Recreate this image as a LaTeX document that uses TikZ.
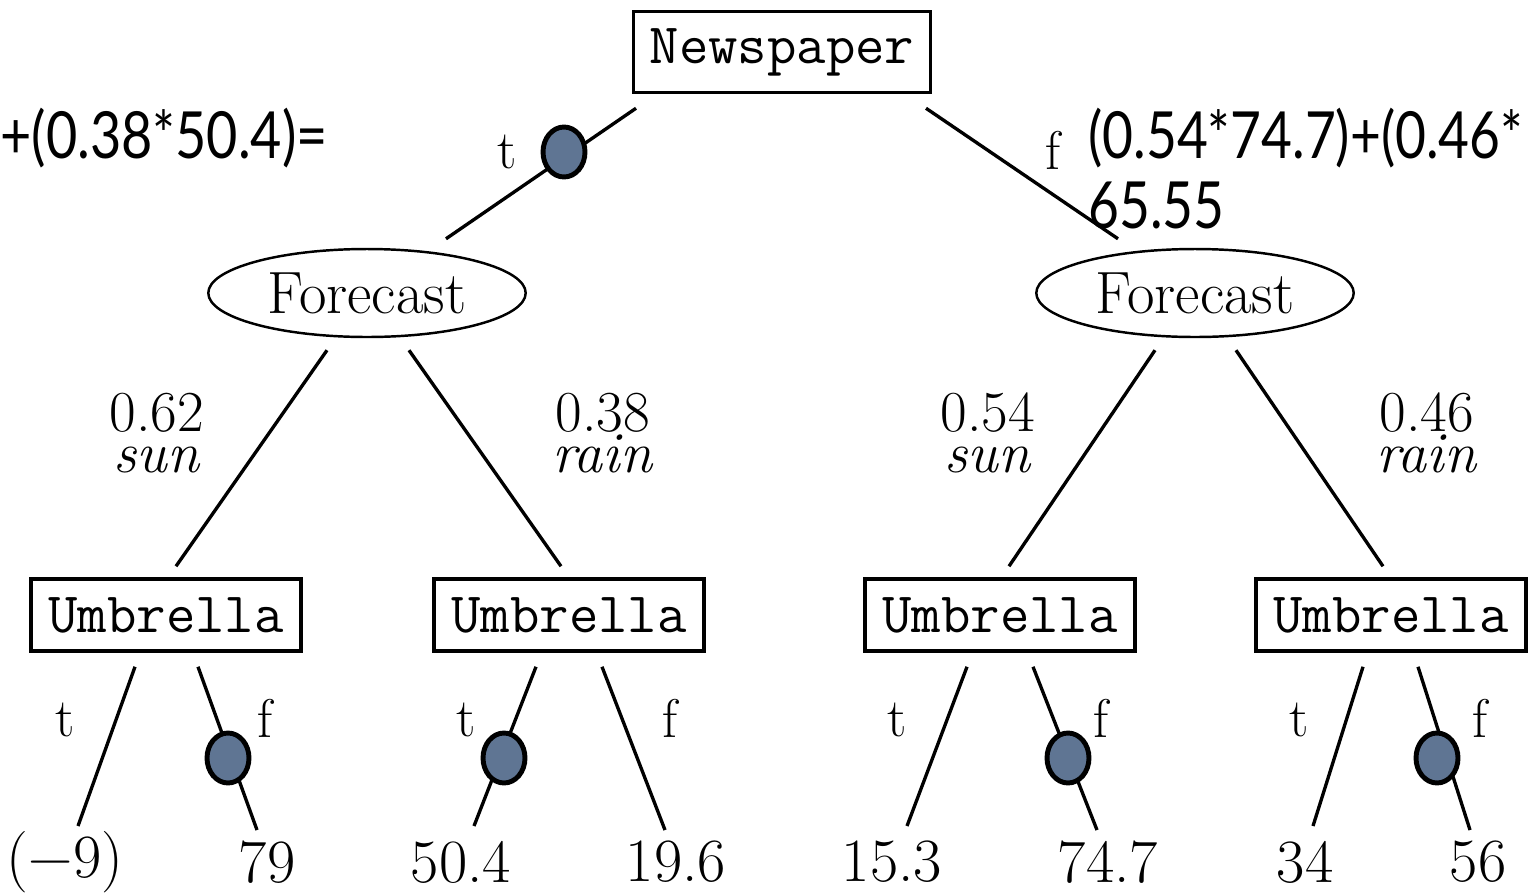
\documentclass[tikz,border=0pt]{standalone}
\usepackage{fontspec}
\newfontfamily\notefont{Lato}
\usetikzlibrary{shapes.geometric,calc}

\begin{document}
\begin{tikzpicture}[x=0.02cm, y=-0.02cm,
    varbox/.style={rectangle, draw, line width=2pt, inner sep=0pt, font=\fontsize{32.5}{32.5}\selectfont\ttfamily},
    chance/.style={ellipse, draw, line width=1.4pt, inner sep=0pt, minimum width=6.35cm, minimum height=1.76cm, font=\fontsize{34}{34}\selectfont},
    edge/.style={line width=1.9pt},
    pick/.style={ellipse, draw, line width=2.8pt, fill=pickblue, inner sep=0pt, minimum width=0.84cm, minimum height=1.0cm},
    lbl/.style={font=\fontsize{31}{31}\selectfont, inner sep=0pt},
    prob/.style={font=\fontsize{33}{23}\selectfont, align=center, inner sep=0pt},
    leaf/.style={font=\fontsize{35}{35}\selectfont, inner sep=0pt},
    note/.style={font=\fontsize{37}{37}\selectfont\notefont, inner sep=0pt, anchor=west}
]
    \definecolor{pickblue}{HTML}{5F7593}
    \useasboundingbox (0,0) rectangle (1531,893);

    % decision and chance nodes
    \node[varbox, minimum width=5.94cm, minimum height=1.62cm] (news) at (782,52) {Newspaper};
    \node[chance] (fcl) at (367,293) {Forecast};
    \node[chance] (fcr) at (1195,293) {Forecast};
    \node[varbox, minimum width=5.4cm, minimum height=1.44cm] (um1) at (166,615) {Umbrella};
    \node[varbox, minimum width=5.4cm, minimum height=1.44cm] (um2) at (569,615) {Umbrella};
    \node[varbox, minimum width=5.4cm, minimum height=1.44cm] (um3) at (1000,615) {Umbrella};
    \node[varbox, minimum width=5.4cm, minimum height=1.44cm] (um4) at (1391,615) {Umbrella};

    % utilities
    \node[leaf] (u1) at (65,862) {(\textminus9)};
    \node[leaf] (u2) at (267,862) {79};
    \node[leaf] (u3) at (461,862) {50.4};
    \node[leaf] (u4) at (676,862) {19.6};
    \node[leaf] (u5) at (892,862) {15.3};
    \node[leaf] (u6) at (1108,862) {74.7};
    \node[leaf] (u7) at (1305,862) {34};
    \node[leaf] (u8) at (1478,862) {56};

    % branches
    \draw[edge] ($(news.south)+(-146,14)$) -- ($(fcl.north)+(79,-9)$);
    \draw[edge] ($(news.south)+(144,14)$) -- ($(fcr.north)+(-77,-9)$);
    \draw[edge] ($(fcl.south)+(-40,12)$) -- ($(um1.north)+(10,-11)$);
    \draw[edge] ($(fcl.south)+(42,12)$) -- ($(um2.north)+(-8,-11)$);
    \draw[edge] ($(fcr.south)+(-40,12)$) -- ($(um3.north)+(9,-11)$);
    \draw[edge] ($(fcr.south)+(41,12)$) -- ($(um4.north)+(-8,-11)$);
    \draw[edge] ($(um1.south)+(-31,14)$) -- ($(u1)+(13,-36)$);
    \draw[edge] ($(um1.south)+(32,14)$) -- ($(u2)+(-10,-32)$);
    \draw[edge] ($(um2.south)+(-33,14)$) -- ($(u3)+(13,-36)$);
    \draw[edge] ($(um2.south)+(33,14)$) -- ($(u4)+(-11,-32)$);
    \draw[edge] ($(um3.south)+(-33,14)$) -- ($(u5)+(15,-36)$);
    \draw[edge] ($(um3.south)+(33,14)$) -- ($(u6)+(-11,-32)$);
    \draw[edge] ($(um4.south)+(-28,14)$) -- ($(u7)+(8,-36)$);
    \draw[edge] ($(um4.south)+(27,14)$) -- ($(u8)+(-8,-32)$);

    % branch labels
    \node[lbl] (tn) at (507,152) {t};
    \node[lbl] (fn) at (1053,150) {f};
    \node[prob] (p1) at (157,433) {0.62\\\textit{sun}};
    \node[prob] (p2) at (603,433) {0.38\\\textit{rain}};
    \node[prob] (p3) at (988,433) {0.54\\\textit{sun}};
    \node[prob] (p4) at (1427,433) {0.46\\\textit{rain}};
    \node[lbl] (t1) at (65,720) {t};
    \node[lbl] (f1) at (265,718) {f};
    \node[lbl] (t2) at (466,720) {t};
    \node[lbl] (f2) at (670,718) {f};
    \node[lbl] (t3) at (897,720) {t};
    \node[lbl] (f3) at (1101,718) {f};
    \node[lbl] (t4) at (1299,720) {t};
    \node[lbl] (f4) at (1480,718) {f};

    % chosen options
    \node[pick] (k0) at (564,152) {};
    \node[pick] (k1) at (228,758) {};
    \node[pick] (k2) at (504,758) {};
    \node[pick] (k3) at (1068,758) {};
    \node[pick] (k4) at (1437,758) {};

    % hand-written sums
    \node[note] (s1) at (0,138) {\scalebox{0.83}[1]{+(0.38*50.4)=}};
    \node[note] (s2) at (1088,138) {\scalebox{0.82}[1]{(0.54*74.7)+(0.46*}};
    \node[note] (s3) at (1088,205) {\scalebox{0.82}[1]{65.55}};
\end{tikzpicture}
\end{document}
